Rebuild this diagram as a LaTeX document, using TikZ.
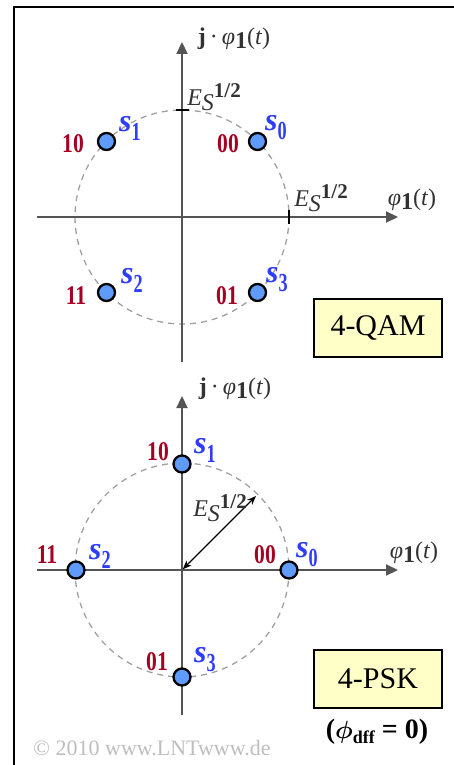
\documentclass[tikz,border=0pt]{standalone}
\usepackage{fontspec}
\usepackage{amsmath}
\usepackage{graphicx}
\setmainfont{Liberation Serif}
\usetikzlibrary{arrows.meta}
\definecolor{bitred}{RGB}{165,0,35}
\definecolor{sblue}{RGB}{45,60,255}
\definecolor{ptblue}{RGB}{95,155,250}
\definecolor{axgray}{RGB}{85,85,85}
\definecolor{lblgray}{RGB}{50,50,50}
\definecolor{circgray}{RGB}{160,160,160}
\definecolor{boxyellow}{RGB}{255,255,200}
\definecolor{copygray}{RGB}{190,190,190}
\newcommand{\fs}[1]{\fontsize{#1}{#1}\selectfont}
\newcommand{\slab}[1]{{\fs{32}\bfseries\itshape s}\raisebox{-9pt}{\scalebox{0.7}[1]{\fs{26}\bfseries #1}}}
\newcommand{\philab}{{\itshape φ}\raisebox{-4pt}{\bfseries 1}(\textit{t})}
\newcommand{\eslab}{\textit{E}\raisebox{-5pt}{\textit{S}}\raisebox{8pt}{\fs{21}\bfseries 1/2}}
\tikzset{
  axis/.style={draw=axgray, line width=2.2pt, -{Triangle[length=12pt,width=11pt]}},
  ring/.style={draw=circgray, line width=1.3pt, dash pattern=on 6pt off 5pt},
  pt/.style={circle, draw=black, line width=2.3pt, fill=ptblue, minimum size=17pt, inner sep=0pt},
  bits/.style={text=bitred, font=\fs{27}\bfseries, xscale=0.8, inner sep=0pt},
  slbl/.style={text=sblue, inner sep=0pt},
  albl/.style={text=lblgray, font=\fs{24}, inner sep=0pt},
  tickmark/.style={draw=black, line width=1.3pt},
  modbox/.style={draw=black, line width=2.3pt, fill=boxyellow, minimum width=128pt, minimum height=58pt, font=\fs{30}, inner sep=0pt},
  esarrow/.style={draw=black, line width=1.3pt, {Stealth[length=9pt,width=7pt]}-{Stealth[length=9pt,width=7pt]}}
}
\begin{document}
\begin{tikzpicture}[x=1pt,y=-1pt]
\useasboundingbox (0,0) rectangle (454,765);
% frame
\coordinate (fbl) at (14,766);
\coordinate (ftl) at (14,7);
\coordinate (ftr) at (455,7);
\draw[line width=2.2pt] (fbl) -- (ftl) -- (ftr);

% ===== 4-QAM =====
\coordinate (c1) at (182,217);
\draw[ring] (c1) circle (107);
\coordinate (x1l) at (37,217);
\coordinate (x1r) at (398,217);
\coordinate (y1b) at (182,362);
\coordinate (y1t) at (182,42);
\draw[axis] (x1l) -- (x1r);
\draw[axis] (y1b) -- (y1t);
\coordinate (t1a) at (176,110); \coordinate (t1b) at (189,110);
\coordinate (t2a) at (289,210); \coordinate (t2b) at (289,224);
\draw[tickmark] (t1a) -- (t1b);
\draw[tickmark] (t2a) -- (t2b);

\node[pt] (q0) at (257.5,141.5) {};
\node[pt] (q1) at (106.5,141.5) {};
\node[pt] (q2) at (106.5,292.5) {};
\node[pt] (q3) at (257.5,292.5) {};

\node[bits] (bq0) at (228,143.5) {00};
\node[bits] (bq1) at (73,143.5) {10};
\node[bits] (bq2) at (76,296) {11};
\node[bits] (bq3) at (227,296) {01};
\node[slbl] (sq0) at (276,128) {\slab{0}};
\node[slbl] (sq1) at (130,128) {\slab{1}};
\node[slbl] (sq2) at (132,280) {\slab{2}};
\node[slbl] (sq3) at (277,280) {\slab{3}};

\node[albl] (ay1) at (234,39) {\textbf{j}\,·\,\philab};
\node[albl] (ax1) at (412,200) {\philab};
\node[albl] (e1a) at (214,97) {\eslab};
\node[albl] (e1b) at (321,198) {\eslab};
\node[modbox] (qam) at (378,328) {4-QAM};

% ===== 4-PSK =====
\coordinate (c2) at (182,570);
\draw[ring] (c2) circle (107);
\coordinate (x2l) at (37,570);
\coordinate (x2r) at (398,570);
\coordinate (y2b) at (182,715);
\coordinate (y2t) at (182,396);
\draw[axis] (x2l) -- (x2r);
\draw[axis] (y2b) -- (y2t);
\coordinate (ae) at (256,496);
\draw[esarrow, shorten <=1pt] (c2) -- (ae);

\node[pt] (p0) at (289,570) {};
\node[pt] (p1) at (182,464) {};
\node[pt] (p2) at (76,570) {};
\node[pt] (p3) at (182,677) {};

\node[bits] (bp0) at (265,555) {00};
\node[bits] (bp1) at (158,452) {10};
\node[bits] (bp2) at (47,555) {11};
\node[bits] (bp3) at (157,662) {01};
\node[slbl] (sp0) at (307,555) {\slab{0}};
\node[slbl] (sp1) at (205,450) {\slab{1}};
\node[slbl] (sp2) at (100,556) {\slab{2}};
\node[slbl] (sp3) at (205,660) {\slab{3}};

\node[albl] (ay2) at (235,389) {\textbf{j}\,·\,\philab};
\node[albl] (ax2) at (414,553) {\philab};
\node[albl] (e2) at (220,508) {\eslab};
\node[modbox] (psk) at (378,679) {4-PSK};
\node[font=\fs{28}\bfseries, inner sep=0pt] (phd) at (377,732) {($\boldsymbol{\phi}$\raisebox{-5pt}{\fs{18}dff} = 0)};

\node[text=copygray, font=\fs{22}, inner sep=0pt] (copy) at (152,748) {© 2010 www.LNTwww.de};
\end{tikzpicture}
\end{document}
